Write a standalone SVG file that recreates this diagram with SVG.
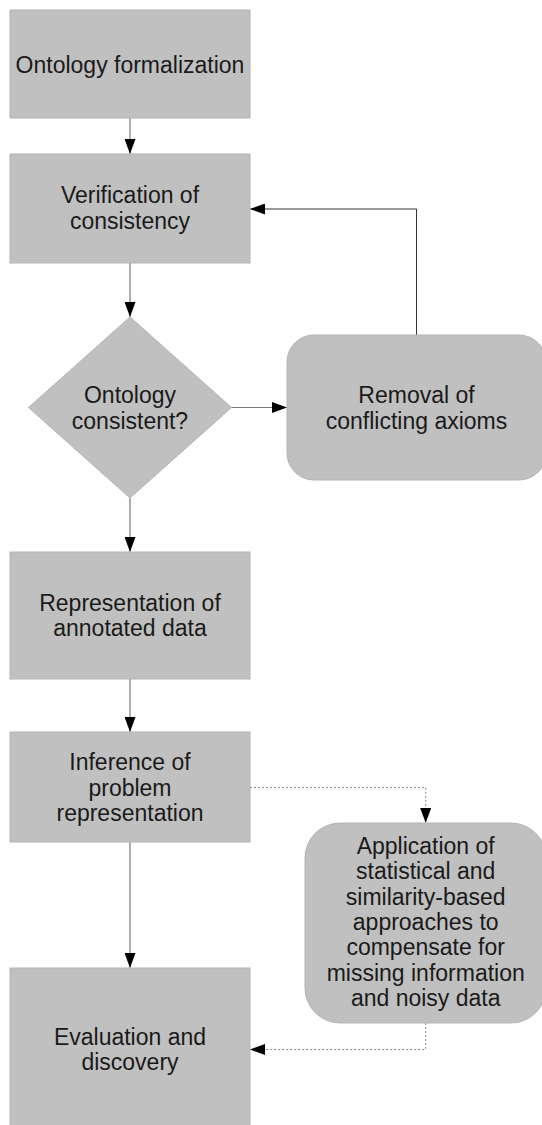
<svg xmlns="http://www.w3.org/2000/svg" width="542" height="1125" viewBox="0 0 542 1125">
<style>
.n{fill:#c0c0c0;stroke:#b4b4b4;stroke-width:1}
.t{font-family:"Liberation Sans",Arial,sans-serif;font-size:23px;fill:#1a1a1a;text-anchor:middle}
.c{fill:none;stroke:#7a7a7a;stroke-width:1.2}
.fb{fill:none;stroke:#333;stroke-width:1}
.d{fill:none;stroke:#8a8a8a;stroke-width:1;stroke-dasharray:2,2}
</style>
<defs>
<marker id="ah" viewBox="0 0 15 11" refX="15" refY="5.5" markerWidth="15" markerHeight="11" markerUnits="userSpaceOnUse" orient="auto">
<path d="M0,0 L15,5.5 L0,11 z" fill="#000"/>
</marker>
</defs>
<rect width="542" height="1125" fill="#fff"/>
<g id="connectors">
<path class="c" d="M130,118 V154" marker-end="url(#ah)"/>
<path class="c" d="M130,263 V317" marker-end="url(#ah)"/>
<path class="c" d="M231,407.5 H287" marker-end="url(#ah)"/>
<path class="fb" d="M416.5,335 V209 H250" marker-end="url(#ah)"/>
<path class="c" d="M130,498 V552" marker-end="url(#ah)"/>
<path class="c" d="M130,679 V732" marker-end="url(#ah)"/>
<path class="d" d="M250,787.5 H425.7 V823" marker-end="url(#ah)"/>
<path class="c" d="M130,842 V968" marker-end="url(#ah)"/>
<path class="d" d="M425.7,1023 V1049.5 H250" marker-end="url(#ah)"/>
</g>
<g id="ontology-formalization">
<rect class="n" x="10" y="10" width="240" height="108"/>
<text class="t" x="130" y="72.5">Ontology formalization</text>
</g>
<g id="verification">
<rect class="n" x="10" y="154" width="240" height="109"/>
<text class="t" x="130" y="203">Verification of</text>
<text class="t" x="130" y="229">consistency</text>
</g>
<g id="consistent-decision">
<polygon class="n" points="130,317 231.5,407.5 130,498 28.5,407.5"/>
<text class="t" x="130" y="403">Ontology</text>
<text class="t" x="130" y="428.5">consistent?</text>
</g>
<g id="removal">
<rect class="n" x="287" y="335" width="259" height="145" rx="27" ry="27"/>
<text class="t" x="416.5" y="403">Removal of</text>
<text class="t" x="416.5" y="428.5">conflicting axioms</text>
</g>
<g id="representation">
<rect class="n" x="10" y="552" width="240" height="127"/>
<text class="t" x="130" y="610.5">Representation of</text>
<text class="t" x="130" y="636">annotated data</text>
</g>
<g id="inference">
<rect class="n" x="10" y="732" width="240" height="110"/>
<text class="t" x="130" y="770">Inference of</text>
<text class="t" x="130" y="795.5">problem</text>
<text class="t" x="130" y="821">representation</text>
</g>
<g id="application">
<rect class="n" x="305" y="823" width="241" height="200" rx="35" ry="35"/>
<text class="t" x="425.7" y="854">Application of</text>
<text class="t" x="425.7" y="879.3">statistical and</text>
<text class="t" x="425.7" y="904.6">similarity-based</text>
<text class="t" x="425.7" y="929.9">approaches to</text>
<text class="t" x="425.7" y="955.2">compensate for</text>
<text class="t" x="425.7" y="980.5">missing information</text>
<text class="t" x="425.7" y="1005.8">and noisy data</text>
</g>
<g id="evaluation">
<rect class="n" x="10" y="968" width="240" height="164"/>
<text class="t" x="130" y="1044.5">Evaluation and</text>
<text class="t" x="130" y="1070">discovery</text>
</g>
</svg>
